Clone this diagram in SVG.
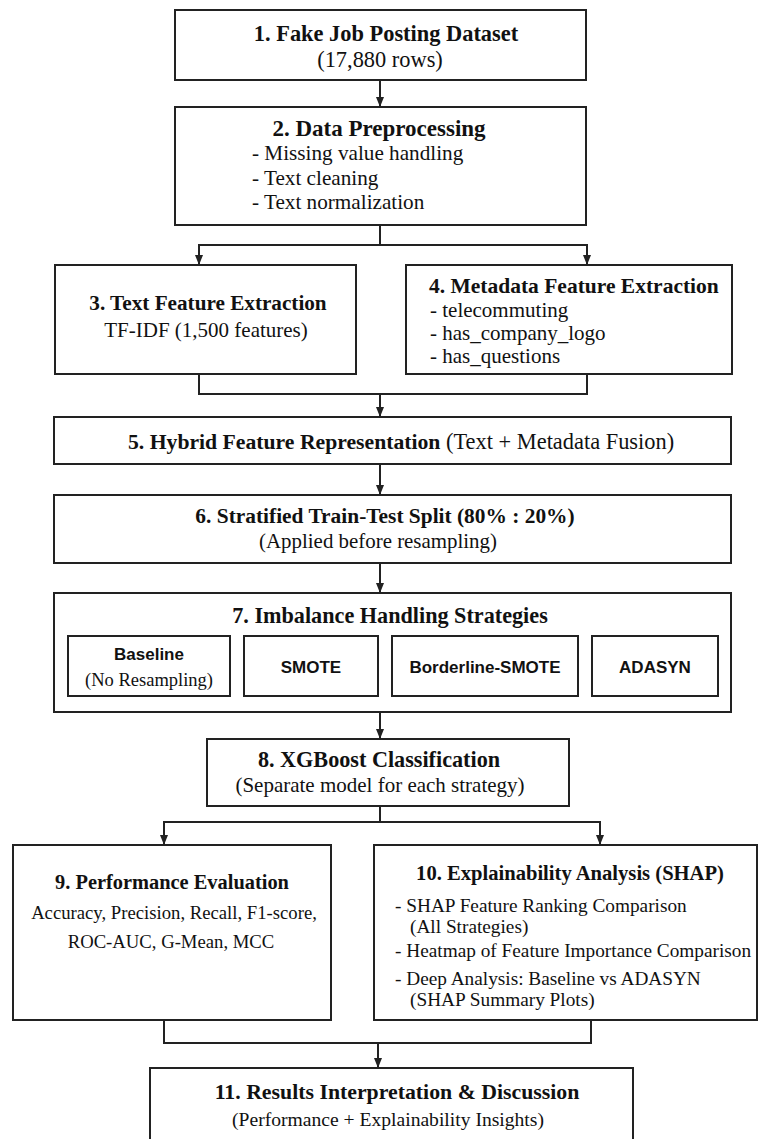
<svg xmlns="http://www.w3.org/2000/svg" width="760" height="1139" viewBox="0 0 760 1139">
<style>
.box{fill:#fff;stroke:#222;stroke-width:2}
.sub{fill:#fff;stroke:#222;stroke-width:2}
.con{fill:none;stroke:#222;stroke-width:2}
text{fill:#111;font-family:"Liberation Serif","Times New Roman",serif}
.t{font-weight:bold}
.m{text-anchor:middle}
.sans{font-family:"Liberation Sans",Arial,sans-serif;font-weight:bold;font-size:17px}
</style>
<defs>
<marker id="arr" viewBox="0 0 10 8" markerWidth="10" markerHeight="8" refX="10" refY="4" orient="auto" markerUnits="userSpaceOnUse">
<path d="M0,0 L10,4 L0,8 z" fill="#222"/>
</marker>
</defs>
<rect width="760" height="1139" fill="#fff"/>
<g id="connectors">
<path class="con" d="M380,80 V107" marker-end="url(#arr)"/>
<path class="con" d="M380,225 V245"/>
<path class="con" d="M380,245 H199 V265" marker-end="url(#arr)"/>
<path class="con" d="M380,245 H587 V265" marker-end="url(#arr)"/>
<path class="con" d="M199,374 V394 H587 V374"/>
<path class="con" d="M380,394 V417" marker-end="url(#arr)"/>
<path class="con" d="M380,464 V495" marker-end="url(#arr)"/>
<path class="con" d="M380,563 V593" marker-end="url(#arr)"/>
<path class="con" d="M380,712 V739" marker-end="url(#arr)"/>
<path class="con" d="M380,806 V822"/>
<path class="con" d="M380,822 H164 V845" marker-end="url(#arr)"/>
<path class="con" d="M380,822 H600 V845" marker-end="url(#arr)"/>
<path class="con" d="M164,1020 V1043 H591 V1020"/>
<path class="con" d="M378,1043 V1068" marker-end="url(#arr)"/>
</g>
<g id="n1">
<rect class="box" x="175" y="10" width="411" height="70"/>
<text class="t m" x="386" y="41" font-size="22.4">1. Fake Job Posting Dataset</text>
<text class="m" x="380" y="67" font-size="22.4">(17,880 rows)</text>
</g>
<g id="n2">
<rect class="box" x="175" y="107" width="411" height="118"/>
<text class="t m" x="379" y="136" font-size="23">2. Data Preprocessing</text>
<text x="252" y="160" font-size="21.2">- Missing value handling</text>
<text x="252" y="185" font-size="21.2">- Text cleaning</text>
<text x="252" y="209" font-size="21.2">- Text normalization</text>
</g>
<g id="n3">
<rect class="box" x="55" y="265" width="301" height="109"/>
<text class="t m" x="208" y="310" font-size="21.2">3. Text Feature Extraction</text>
<text class="m" x="206" y="337" font-size="21">TF-IDF (1,500 features)</text>
</g>
<g id="n4">
<rect class="box" x="406" y="265" width="326" height="109"/>
<text class="t" x="429" y="293" font-size="21.5">4. Metadata Feature Extraction</text>
<text x="430" y="317" font-size="21">- telecommuting</text>
<text x="430" y="340" font-size="21">- has_company_logo</text>
<text x="430" y="363" font-size="21">- has_questions</text>
</g>
<g id="n5">
<rect class="box" x="54" y="417" width="677" height="47"/>
<text x="128" y="449"><tspan class="t" font-size="21.7">5. Hybrid Feature Representation</tspan><tspan font-size="22.4"> (Text + Metadata Fusion)</tspan></text>
</g>
<g id="n6">
<rect class="box" x="54" y="495" width="677" height="68"/>
<text class="t m" x="385" y="523" font-size="21.4">6. Stratified Train-Test Split (80% : 20%)</text>
<text class="m" x="378" y="548" font-size="20.9">(Applied before resampling)</text>
</g>
<g id="n7">
<rect class="box" x="54" y="593" width="677" height="119"/>
<text class="t m" x="390" y="623" font-size="22.2">7. Imbalance Handling Strategies</text>
<g id="n7a">
<rect class="sub" x="68" y="636" width="162" height="60"/>
<text class="sans m" x="149" y="660" font-size="16.5">Baseline</text>
<text class="m" x="149" y="686" font-size="18.5">(No Resampling)</text>
</g>
<g id="n7b">
<rect class="sub" x="244" y="636" width="134" height="60"/>
<text class="sans m" x="311" y="673">SMOTE</text>
</g>
<g id="n7c">
<rect class="sub" x="392" y="636" width="186" height="60"/>
<text class="sans m" x="485" y="673">Borderline-SMOTE</text>
</g>
<g id="n7d">
<rect class="sub" x="592" y="636" width="126" height="60"/>
<text class="sans m" x="655" y="673">ADASYN</text>
</g>
</g>
<g id="n8">
<rect class="box" x="207" y="739" width="362" height="67"/>
<text class="t m" x="379" y="767" font-size="22.2">8. XGBoost Classification</text>
<text class="m" x="380" y="792" font-size="21">(Separate model for each strategy)</text>
</g>
<g id="n9">
<rect class="box" x="13" y="845" width="318" height="175"/>
<text class="t m" x="172" y="889" font-size="20.4">9. Performance Evaluation</text>
<text class="m" x="174" y="919" font-size="18.7">Accuracy, Precision, Recall, F1-score,</text>
<text class="m" x="171" y="948" font-size="18.7">ROC-AUC, G-Mean, MCC</text>
</g>
<g id="n10">
<rect class="box" x="374" y="845" width="383" height="175"/>
<text class="t m" x="570" y="880" font-size="20.6">10. Explainability Analysis (SHAP)</text>
<text x="395" y="912" font-size="19.3">- SHAP Feature Ranking Comparison</text>
<text x="410" y="933" font-size="19.3">(All Strategies)</text>
<text x="395" y="957" font-size="19.3">- Heatmap of Feature Importance Comparison</text>
<text x="395" y="985" font-size="19.3">- Deep Analysis: Baseline vs ADASYN</text>
<text x="410" y="1006" font-size="19.3">(SHAP Summary Plots)</text>
</g>
<g id="n11">
<rect class="box" x="150" y="1068" width="483" height="90"/>
<text class="t m" x="397" y="1099" font-size="21.8">11. Results Interpretation &amp; Discussion</text>
<text class="m" x="388" y="1126" font-size="19.6">(Performance + Explainability Insights)</text>
</g>
</svg>
